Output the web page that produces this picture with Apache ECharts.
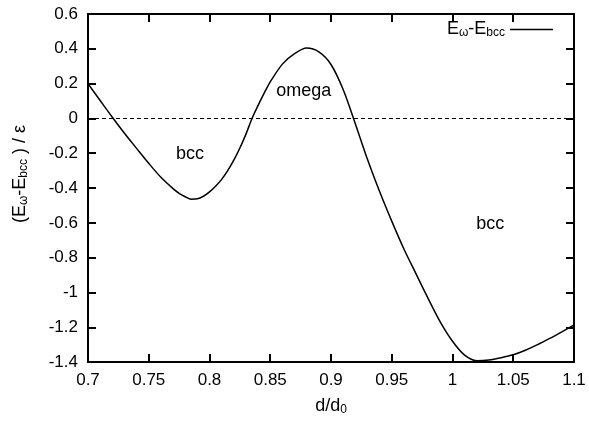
<!DOCTYPE html>
<html>
<head>
<meta charset="utf-8">
<script src="https://cdn.jsdelivr.net/npm/echarts@6/dist/echarts.min.js"></script>
<style>html,body{margin:0;padding:0;background:#fff}#c{width:589px;height:421px}</style>
</head>
<body>
<div id="c"></div>
<script>
const xTicks = [0.7, 0.75, 0.8, 0.85, 0.9, 0.95, 1.0, 1.05, 1.1];
const yTicks = [-1.4, -1.2, -1.0, -0.8, -0.6, -0.4, -0.2, 0, 0.2, 0.4, 0.6];
const dRatio = [0.70, 0.71, 0.72, 0.73, 0.74, 0.75, 0.76, 0.77, 0.775, 0.78, 0.785, 0.79, 0.795, 0.80, 0.805, 0.81, 0.815, 0.82, 0.825, 0.83, 0.835, 0.84, 0.845, 0.85, 0.86, 0.87, 0.88, 0.89, 0.90, 0.91, 0.92, 0.93, 0.94, 0.95, 0.96, 0.97, 0.98, 0.99, 1.00, 1.01, 1.02, 1.03, 1.04, 1.05, 1.06, 1.07, 1.08, 1.09, 1.10];
const dE = [0.200, 0.103, 0.007, -0.085, -0.172, -0.258, -0.338, -0.403, -0.430, -0.450, -0.464, -0.462, -0.447, -0.422, -0.390, -0.350, -0.300, -0.240, -0.170, -0.090, 0.000, 0.075, 0.145, 0.210, 0.312, 0.372, 0.404, 0.382, 0.310, 0.166, -0.030, -0.235, -0.420, -0.590, -0.750, -0.893, -1.035, -1.170, -1.280, -1.360, -1.392, -1.388, -1.375, -1.358, -1.332, -1.300, -1.264, -1.226, -1.187];
const annoText = ['bcc', 'omega', 'bcc'];
const annoX = [0.784, 0.8775, 1.031];
const annoY = [-0.206, 0.156, -0.606];

const FONT = 'Liberation Sans';
const sub = { fontSize: 12, fontFamily: FONT, color: '#000', verticalAlign: 'bottom', lineHeight: 12, padding: [10, 0, 0, 0] };
const main = { fontSize: 18, fontFamily: FONT, color: '#000', verticalAlign: 'top', lineHeight: 19 };

const chart = echarts.init(document.getElementById('c'), null, { renderer: 'canvas' });
const axisCommon = {
  type: 'value',
  axisLine: { show: true, onZero: false, lineStyle: { color: '#000', width: 2 } },
  axisTick: { show: true, inside: true, length: 8, lineStyle: { color: '#000', width: 2 } },
  splitLine: { show: false }
};
chart.setOption({
  animation: false,
  backgroundColor: '#fff',
  grid: { left: 87.5, right: 15, top: 14, bottom: 57 },
  legend: {
    show: true,
    right: 31, top: 12,
    align: 'right',
    icon: 'rect',
    itemWidth: 43, itemHeight: 1.5,
    data: [{ name: 'E' }],
    formatter: () => '{m|E}{s|ω}{m|-E}{s|bcc}',
    textStyle: { rich: { m: main, s: sub } }
  },
  xAxis: [
    Object.assign({}, axisCommon, {
      min: xTicks[0], max: xTicks[xTicks.length - 1], interval: 0.05,
      position: 'bottom',
      axisLabel: { show: true, margin: 10, fontSize: 17, fontFamily: FONT, color: '#000',
        formatter: v => String(+v.toFixed(2)) },
      name: '{m|d/d}{s|0}',
      nameLocation: 'middle', nameGap: 34,
      nameTextStyle: { rich: { m: main, s: sub } }
    }),
    Object.assign({}, axisCommon, {
      min: xTicks[0], max: xTicks[xTicks.length - 1], interval: 0.05,
      position: 'top', axisLabel: { show: false }
    })
  ],
  yAxis: [
    Object.assign({}, axisCommon, {
      min: yTicks[0], max: yTicks[yTicks.length - 1], interval: 0.2,
      position: 'left',
      axisLabel: { show: true, margin: 10, fontSize: 17, fontFamily: FONT, color: '#000',
        formatter: v => String(+v.toFixed(1)) },
      name: '{m|(E}{s|ω}{m|-E}{s|bcc}{m| ) / ε}',
      nameLocation: 'middle', nameGap: 58,
      nameTextStyle: { padding: [0, 0, 0, 28], rich: { m: main, s: sub } }
    }),
    Object.assign({}, axisCommon, {
      min: yTicks[0], max: yTicks[yTicks.length - 1], interval: 0.2,
      position: 'right', axisLabel: { show: false }
    })
  ],
  series: [
    {
      name: 'E',
      type: 'line',
      xAxisIndex: 0, yAxisIndex: 0,
      data: dRatio.map((x, i) => [x, dE[i]]),
      showSymbol: false,
      smooth: 0.3,
      color: '#000',
      lineStyle: { color: '#000', width: 1.5 },
      markLine: {
        silent: true, symbol: 'none',
        lineStyle: { color: '#000', type: [4, 3], width: 1 },
        label: { show: false },
        data: [{ yAxis: 0 }]
      },
      markPoint: {
        symbol: 'circle', symbolSize: 0,
        label: { show: true, position: 'inside', fontSize: 18, fontFamily: FONT, color: '#000',
          formatter: p => p.name },
        data: annoText.map((t, i) => ({ name: t, coord: [annoX[i], annoY[i]] }))
      }
    }
  ]
});
</script>
</body>
</html>
